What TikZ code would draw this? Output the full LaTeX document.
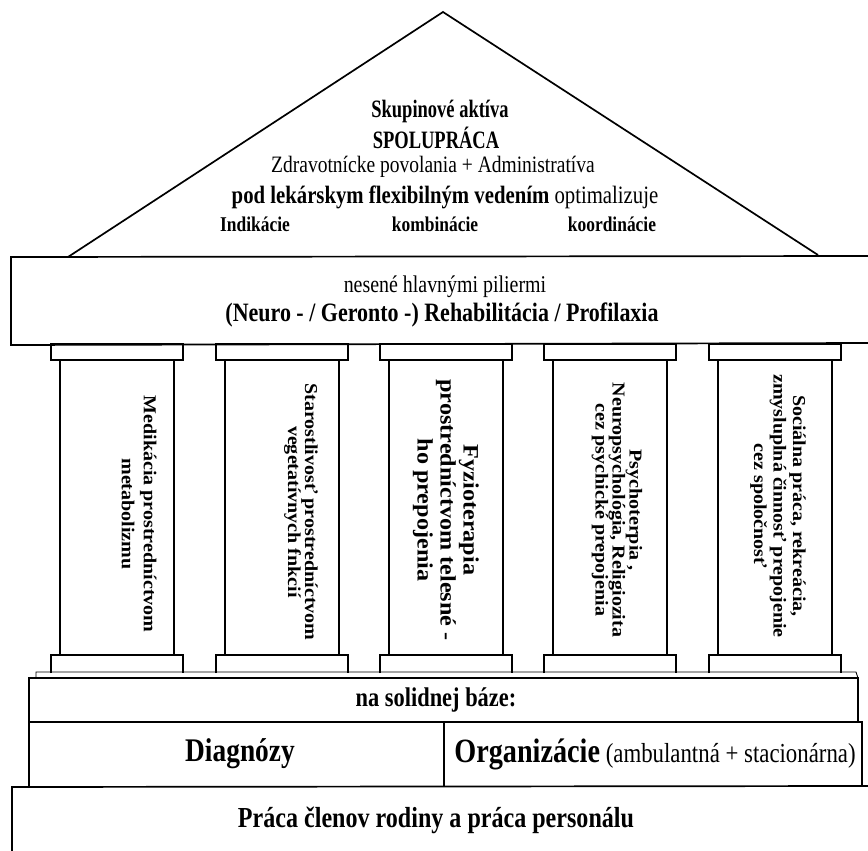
\documentclass[tikz,border=0pt]{standalone}
\usepackage{fontspec}
\setmainfont{Liberation Serif}[FakeStretch=0.83]
\newfontfamily\narrowfont{Liberation Serif}[FakeStretch=0.74]
\newfontfamily\tallfont{Liberation Serif}[FakeStretch=1.1]
\usetikzlibrary{calc}

\tikzset{
  wall/.style={draw=black, line width=1.7pt, line join=miter},
  thinwall/.style={draw=black, line width=0.9pt},
  rooftext/.style={align=center, inner sep=0pt, font=\fontsize{23.5}{28}\selectfont},
  roofbold/.style={align=center, inner sep=0pt, font=\narrowfont\bfseries\fontsize{25}{28}\selectfont},
  bandtext/.style={align=center, inner sep=0pt, font=\fontsize{24}{28}\selectfont},
  piertext/.style={align=center, inner sep=0pt, rotate=-90, font=\tallfont\bfseries\fontsize{18.2}{17}\selectfont},
  basetext/.style={align=center, inner sep=0pt, font=\bfseries\fontsize{27}{30}\selectfont}
}

\begin{document}
\begin{tikzpicture}[x=1pt, y=-1pt]

\fill[white] (0,0) rectangle (868,851);
\useasboundingbox (0,0) rectangle (868,851);

% roof
\coordinate (roofleft) at (68,257);
\coordinate (apex) at (443,12);
\coordinate (roofright) at (818,255);
\draw[wall] (roofleft) -- (apex) -- (roofright);

\node[roofbold] (skupina) at (440,111) {Skupinové aktíva};
\node[roofbold] (spolupraca) at (436,138) {SPOLUPRÁCA};
\node[rooftext] (povolania) at (433,167) {Zdravotnícke povolania + Administratíva};
\node[rooftext, font=\fontsize{25}{28}\selectfont] (vedenie) at (445,197) {\textbf{pod lekárskym flexibilným vedením} optimalizuje};
\node[rooftext, font=\bfseries\fontsize{21}{24}\selectfont] (indikacie) at (255,224) {Indikácie};
\node[rooftext, font=\bfseries\fontsize{21}{24}\selectfont] (kombinacie) at (435,224) {kombinácie};
\node[rooftext, font=\bfseries\fontsize{21}{24}\selectfont] (koordinacie) at (612,224) {koordinácie};

% entablature
\draw[wall] (868,256) -- (11,257) -- (11,345) -- (868,343);
\node[bandtext] (nesene) at (445,287) {nesené hlavnými piliermi};
\node[bandtext, font=\bfseries\fontsize{26.5}{28}\selectfont] (smery) at (442,315) {(Neuro - / Geronto -) Rehabilitácia / Profilaxia};

% pillars
\draw[wall] (51,344) rectangle (183,360);
\draw[wall] (60,360) -- (60,655) (174,360) -- (174,655);
\draw[wall] (51,673) -- (51,655) -- (183,655) -- (183,673);

\draw[wall] (216,344) rectangle (348,360);
\draw[wall] (225,360) -- (225,655) (339,360) -- (339,655);
\draw[wall] (216,673) -- (216,655) -- (348,655) -- (348,673);

\draw[wall] (380,344) rectangle (512,360);
\draw[wall] (389,360) -- (389,655) (503,360) -- (503,655);
\draw[wall] (380,673) -- (380,655) -- (512,655) -- (512,673);

\draw[wall] (544,344) rectangle (676,360);
\draw[wall] (553,360) -- (553,655) (667,360) -- (667,655);
\draw[wall] (544,673) -- (544,655) -- (676,655) -- (676,673);

\draw[wall] (709,344) rectangle (841,360);
\draw[wall] (718,360) -- (718,655) (832,360) -- (832,655);
\draw[wall] (709,673) -- (709,655) -- (841,655) -- (841,673);

\node[piertext, font=\tallfont\bfseries\fontsize{18.2}{22}\selectfont] (medikacia) at (139,514) {Medikácia prostredníctvom\\metabolizmu};
\node[piertext] (starostlivost) at (301,512) {Starostlivosť prostredníctvom\\vegetatívnych fnkcií};
\node[piertext, font=\tallfont\bfseries\fontsize{22}{23}\selectfont] (fyzioterapia) at (446,510) {Fyzioterapia\\prostredníctvom telesné -\\ho prepojenia};
\node[piertext] (psychoterapia) at (617,510) {Psychoterpia ,\\Neuropsychológia, Religiozita\\cez psychické prepojenia};
\node[piertext, font=\tallfont\bfseries\fontsize{18.2}{19.5}\selectfont] (socialna) at (778,506) {Sociálna práca, rekreácia,\\zmysluplná činnosť prepojenie\\cez spoločnosť};

% base
\draw[thinwall] (36,678) -- (36,672) -- (856,672) -- (858,678);
\draw[wall] (29,788) -- (29,678) -- (858,678) -- (858,722);
\draw[wall] (29,722) -- (862,722) -- (862,786);
\draw[wall] (444,722) -- (444,787);
\draw[wall] (12,851) -- (12,787) -- (868,786);

\node[basetext] (solidna) at (436,700) {na solidnej báze:};
\node[basetext, font=\bfseries\fontsize{33}{34}\selectfont] (diagnozy) at (240,754) {Diagnózy};
\node[basetext, font=\fontsize{27.5}{30}\selectfont] (organizacie) at (655,754) {{\bfseries\fontsize{34}{34}\selectfont Organizácie} (ambulantná + stacionárna)};
\node[basetext, font=\bfseries\fontsize{29}{32}\selectfont] (praca) at (436,820) {Práca členov rodiny a práca personálu};

\end{tikzpicture}
\end{document}
